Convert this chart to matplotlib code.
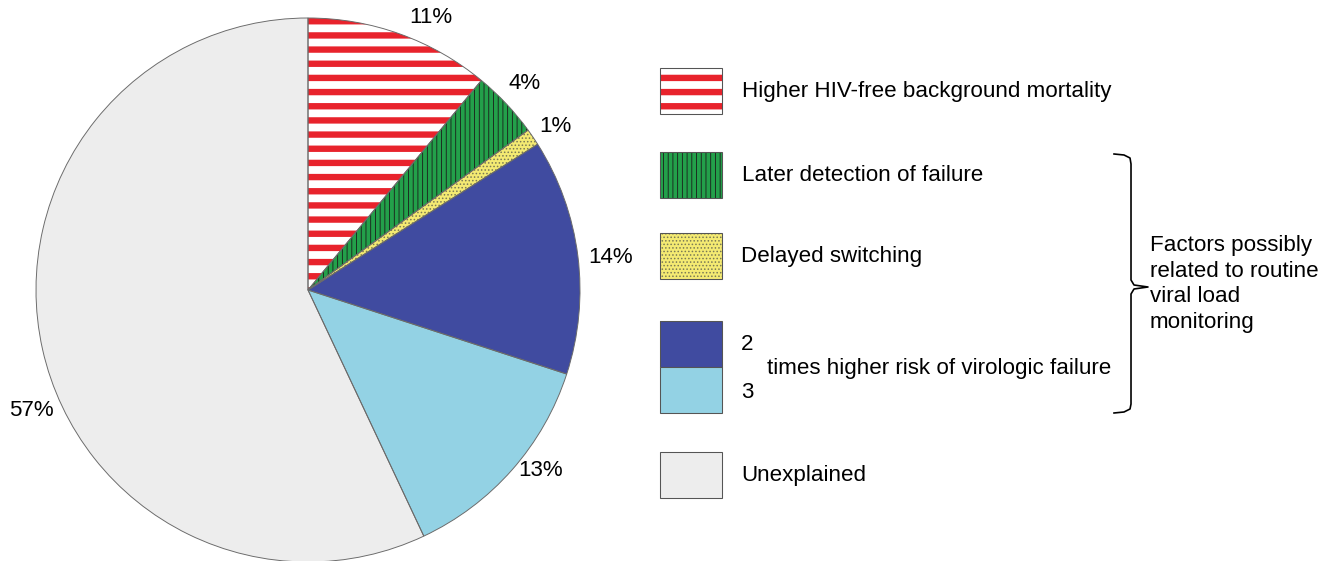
import matplotlib
matplotlib.use("Agg")
import matplotlib.pyplot as plt
from matplotlib.patches import Rectangle
import numpy as np

plt.rcParams['font.family'] = ['Liberation Sans', 'DejaVu Sans']

# data (percent of excess deaths)
labels = ["Higher HIV-free background mortality", "Later detection of failure",
          "Delayed switching", "2", "3", "Unexplained"]
shares = [11, 4, 1, 14, 13, 57]
colors = ["white", "#23a04a", "#f4ea72", "#404ba0", "#93d2e4", "#ededed"]
hatches = ["-", "|||", "....", None, None, None]
hatch_cols = ["#e8232c", "#1a1a1a", "#7a7a55", None, None, None]
hatch_lw = [5.4, 0.7, 0.8, 0, 0, 0]

DPI = 85
W, H = 1335, 561
FS = 19
fig = plt.figure(figsize=((W + 0.01) / DPI, (H + 0.01) / DPI), dpi=DPI)
ax = fig.add_axes([0, 0, 1, 1])

cx, cy, R = 308, H - 290, 272

wedges, _ = ax.pie(shares, colors=colors, startangle=90, counterclock=False,
                   center=(cx, cy), radius=R, frame=True,
                   wedgeprops=dict(linewidth=0))
for w, h, hc, lw in zip(wedges, hatches, hatch_cols, hatch_lw):
    if h:
        w.set_edgecolor(hc)
        w.set_linewidth(0)
        w.set_hatch(h)
        if hasattr(w, "set_hatch_linewidth"):
            w.set_hatch_linewidth(lw)
# outlines on top
ax.pie(shares, colors=["none"] * len(shares), startangle=90, counterclock=False,
       center=(cx, cy), radius=R, frame=True,
       wedgeprops=dict(fill=False, edgecolor="#6a6a6a", linewidth=0.8))

# percent labels just outside the slices
lab_shift = [-4.4, 0.4, -0.8, -1.0, 3.6, 11.0]
lab_dist = [1.10, 1.10, 1.09, 1.12, 1.08, 1.11]
for w, s, d, f in zip(wedges, shares, lab_shift, lab_dist):
    a = np.deg2rad((w.theta1 + w.theta2) / 2 + d)
    ax.text(cx + f * R * np.cos(a), cy + f * R * np.sin(a), f"{s}%",
            ha="center", va="center", fontsize=FS)

# legend drawn by hand
bx, bw, bh = 660, 62, 46
box_tops = [68, 152, 233, 321, 367, 452]
text_x = [742, 742, 741, 741, 741, 741]
for i in range(len(labels)):
    y0 = H - box_tops[i] - bh
    r = Rectangle((bx, y0), bw, bh, facecolor=colors[i], edgecolor="none")
    if hatches[i]:
        r.set_edgecolor(hatch_cols[i])
        r.set_linewidth(0)
        r.set_hatch(hatches[i])
        if hasattr(r, "set_hatch_linewidth"):
            r.set_hatch_linewidth(hatch_lw[i])
    ax.add_patch(r)
    ax.add_patch(Rectangle((bx, y0), bw, bh, fill=False,
                           edgecolor="#555555", linewidth=0.9))
    if labels[i] in ("2", "3"):
        ty = H - (344 if labels[i] == "2" else 392)
    else:
        ty = H - (box_tops[i] + bh / 2)
    ax.text(text_x[i], ty, labels[i], ha="left", va="center", fontsize=FS)

ax.text(767, H - 368, "times higher risk of virologic failure",
        ha="left", va="center", fontsize=FS)

# brace
bxs = [1114, 1124, 1130, 1131, 1131, 1134, 1148, 1134, 1131, 1131, 1130, 1124, 1114]
bys = [154, 155, 158, 164, 280, 285, 287, 289, 294, 404, 409, 412, 413]
ax.plot(bxs, [H - y for y in bys], color="black", linewidth=1.4,
        solid_joinstyle="round")
ax.text(1150, H - 284, "Factors possibly\nrelated to routine\nviral load\nmonitoring",
        ha="left", va="center", fontsize=FS, linespacing=1.3)

ax.set_xlim(0, W)
ax.set_ylim(0, H)
ax.axis("off")

fig.savefig("out.png", dpi=DPI, facecolor="white")
